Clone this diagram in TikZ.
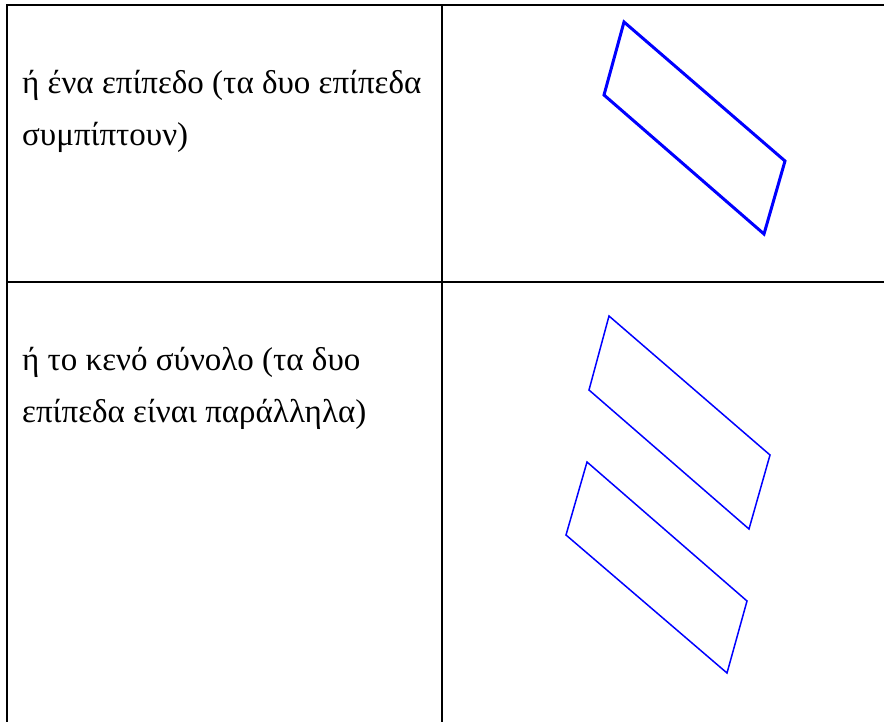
\documentclass[tikz,border=0pt]{standalone}
\usepackage{fontspec}
\setmainfont{Liberation Serif}
\definecolor{planeblue}{RGB}{0,0,255}
\tikzset{
  rule/.style={line width=2pt, black},
  celltext/.style={anchor=base west, inner sep=0pt, align=left, font=\fontsize{33}{52}\selectfont},
  thickplane/.style={draw=planeblue, line width=3pt, line join=miter},
  thinplane/.style={draw=planeblue, line width=1.5pt, line join=miter}
}
\begin{document}
\begin{tikzpicture}[x=1pt,y=-1pt]
\useasboundingbox (0,0) rectangle (884,722);
% table rules
\draw[rule] (7,722) -- (7,5) -- (884,5);
\draw[rule] (442,5) -- (442,722);
\draw[rule] (7,282) -- (884,282);
% texts (anchor = baseline of the last line)
\node[celltext] (t1) at (22,146) {ή ένα επίπεδο (τα δυο επίπεδα\\συμπίπτουν)};
\node[celltext] (t2) at (22,422) {ή το κενό σύνολο (τα δυο\\επίπεδα είναι παράλληλα)};
% planes
\draw[thickplane] (624,22) -- (785,161) -- (764,234) -- (604,95) -- cycle;
\draw[thinplane] (609,316) -- (770,455) -- (749,529) -- (589,390) -- cycle;
\draw[thinplane] (587,462) -- (747,601) -- (727,673) -- (566,535) -- cycle;
\end{tikzpicture}
\end{document}
